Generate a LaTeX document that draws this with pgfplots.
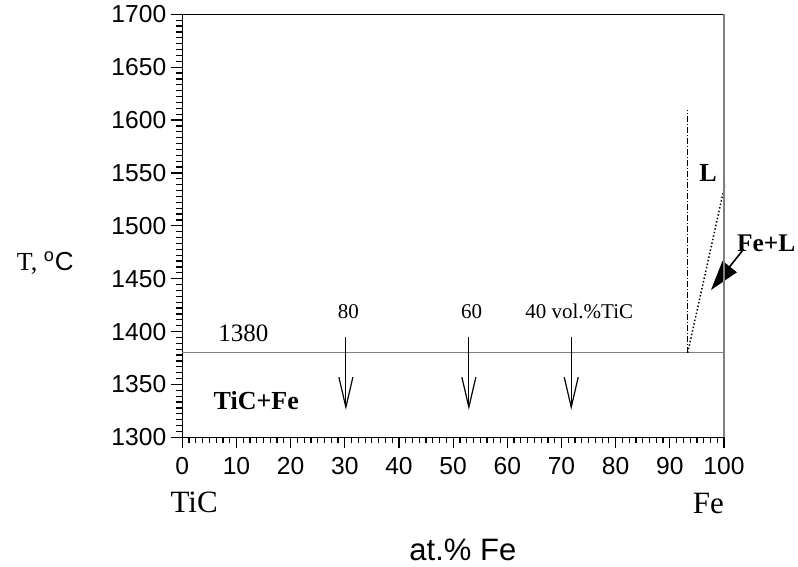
\documentclass[border=0pt]{standalone}
\usepackage{pgfplots}
\pgfplotsset{compat=1.18}
\usepackage{fontspec}
\setmainfont{Liberation Serif}
\setsansfont{Liberation Sans}
\usetikzlibrary{arrows.meta}
\begin{document}
\begin{tikzpicture}
\begin{axis}[
  scale only axis, width=270.85pt, height=211.5pt,
  xmin=0, xmax=100, ymin=1300, ymax=1700,
  xtick={0,10,...,100}, ytick={1300,1350,...,1700},
  minor x tick num=7, minor y tick num=8,
  xtick pos=bottom, ytick pos=left,
  tick align=outside, major tick length=5.5pt, minor tick length=3pt,
  every tick/.style={black, line width=0.6pt},
  axis line style={line width=0.5pt},
  ticklabel style={font=\sffamily\fontsize{12.3}{14}\selectfont},
  /pgf/number format/assume math mode=true,
  /pgf/number format/1000 sep={},
  xticklabel shift=1pt, yticklabel shift=-1pt,
  clip=false,
]
% 1380 isotherm
\addplot[gray, line width=0.5pt] coordinates {(0,1380) (100,1380)};
% composition arrows
\addplot[black, line width=0.6pt, -{Straight Barb[length=15pt,width=7pt]}] coordinates {(30.2,1395) (30.2,1326)};
\addplot[black, line width=0.6pt, -{Straight Barb[length=15pt,width=7pt]}] coordinates {(52.9,1395) (52.9,1326)};
\addplot[black, line width=0.6pt, -{Straight Barb[length=15pt,width=7pt]}] coordinates {(71.8,1395) (71.8,1326)};
% liquidus lines
\addplot[black, line width=0.4pt, dash pattern=on 3pt off 1pt on 0.5pt off 1pt] coordinates {(93.2,1380) (93.2,1609.6)};
\addplot[black, line width=0.75pt, dash pattern=on 0.7pt off 1.1pt] coordinates {(93.3,1380) (100.2,1539.6)};
% Fe+L pointer
\addplot[black, line width=0.8pt, -{Triangle[length=15pt,width=9pt]}] coordinates {(103.6,1477.8) (97.6,1439.3)};

\draw[gray, line width=0.7pt] (rel axis cs:1,0) -- (rel axis cs:1,1);

\node[font=\fontsize{12.5}{14}\selectfont] at (axis cs:11.26,1398.3) {1380};
\node[font=\fontsize{10.5}{12}\selectfont] at (axis cs:30.65,1418.8) {80};
\node[font=\fontsize{10.5}{12}\selectfont] at (axis cs:53.4,1418.8) {60};
\node[font=\fontsize{10.5}{12}\selectfont, anchor=west, inner sep=0pt] at (axis cs:63.26,1418.8) {40 vol.\%TiC};
\node[font=\bfseries\fontsize{13}{15}\selectfont, anchor=west, inner sep=0pt] at (axis cs:5.72,1334.3) {TiC+Fe};
\node[font=\bfseries\fontsize{13}{15}\selectfont] at (axis cs:97.05,1549.6) {L};
\node[font=\bfseries\fontsize{12.7}{15}\selectfont, anchor=west, inner sep=0pt] at (axis cs:102.35,1483.1) {Fe+L};
\node[font=\fontsize{15.5}{17}\selectfont] at (axis cs:2.2,1238.5) {TiC};
\node[font=\fontsize{15.5}{17}\selectfont] at (axis cs:97.1,1237) {Fe};
\node[font=\fontsize{13}{15}\selectfont] at (axis cs:-25.3,1464.8) {T, \textsuperscript{\sffamily o}\sffamily C};
\node[font=\sffamily\fontsize{15.5}{17}\selectfont] at (axis cs:51.8,1193.5) {at.\% Fe};

\coordinate (bbl) at (rel axis cs:-0.3365,-0.3066);
\coordinate (btr) at (rel axis cs:1.1366,1.0338);
\end{axis}
\pgfresetboundingbox
\path (bbl) rectangle (btr);
\end{tikzpicture}
\end{document}
